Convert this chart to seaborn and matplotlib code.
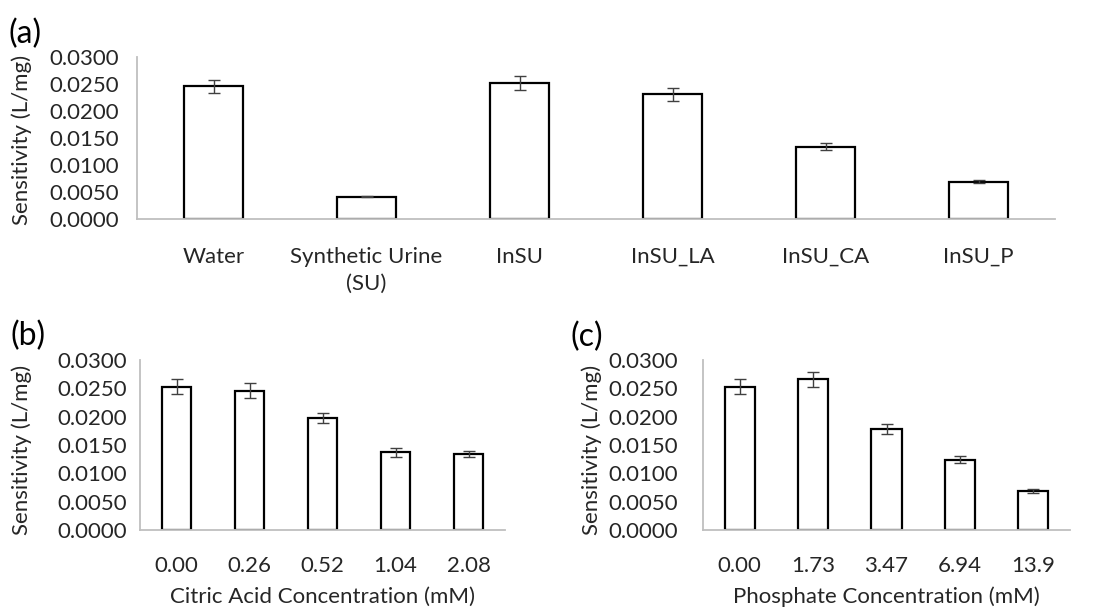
import numpy as np
import pandas as pd
import matplotlib
matplotlib.use("Agg")
import matplotlib.pyplot as plt
import matplotlib.transforms as mtransforms
import seaborn as sns

sns.set_style("white")
plt.rcParams["font.family"] = ["Lato", "DejaVu Sans"]

# data ----------------------------------------------------------------
cats_a = ["Water", "Synthetic Urine\n(SU)", "InSU", "InSU_LA", "InSU_CA", "InSU_P"]
sens_a = [0.0246, 0.0041, 0.0252, 0.0231, 0.0134, 0.0069]
err_a = [0.0012, 0.0001, 0.0013, 0.0012, 0.0006, 0.0003]

cats_b = ["0.00", "0.26", "0.52", "1.04", "2.08"]
sens_b = [0.0253, 0.0246, 0.0197, 0.0137, 0.0134]
err_b = [0.0013, 0.0013, 0.0009, 0.0008, 0.0006]

cats_c = ["0.00", "1.73", "3.47", "6.94", "13.9"]
sens_c = [0.0253, 0.0266, 0.0178, 0.0124, 0.0069]
err_c = [0.0013, 0.0013, 0.0009, 0.0006, 0.0003]

W, H = 1096, 608
FS = 16
fig = plt.figure(figsize=(W / 100, H / 100), dpi=100)


def px_axes(left, top, right, bottom):
    return fig.add_axes([left / W, 1 - bottom / H, (right - left) / W, (bottom - top) / H])


def panel(ax, cats, vals, errs, width, xlabel, ypad, xpad):
    df = pd.DataFrame({"cat": cats, "val": vals})
    sns.barplot(data=df, x="cat", y="val", ax=ax, color="white", width=width,
                edgecolor="black", linewidth=1.6, errorbar=None, saturation=1)
    ax.errorbar(np.arange(len(cats)), vals, yerr=errs, fmt="none",
                ecolor="#404040", elinewidth=1, capsize=4, capthick=1)
    ax.set_ylim(0, 0.03)
    ax.set_xlim(-0.5, len(cats) - 0.5)
    ax.set_yticks(np.arange(0, 0.0301, 0.005))
    ax.set_yticklabels([f"{v:.4f}" for v in np.arange(0, 0.0301, 0.005)])
    ax.set_xticks(np.arange(-0.5, len(cats)), minor=True)
    ax.tick_params(axis="y", length=0, pad=ypad, labelsize=FS, colors="#262626")
    ax.tick_params(axis="x", which="major", length=0, pad=xpad, labelsize=FS, colors="#262626")
    ax.tick_params(axis="x", which="minor", length=3, color="#BFBFBF", direction="out")
    for t in ax.get_xticklabels():
        t.set_linespacing(1.45)
    for s in ["top", "right"]:
        ax.spines[s].set_visible(False)
    for s in ["left", "bottom"]:
        ax.spines[s].set_color("#BFBFBF")
        ax.spines[s].set_linewidth(1.3)
    ax.set_xlabel(xlabel, fontsize=FS, color="#262626")
    ax.set_ylabel("Sensitivity (L/mg)", fontsize=FS, color="#262626")


ax_a = px_axes(137, 57, 1055, 219)
panel(ax_a, cats_a, sens_a, err_a, 0.385, "", 13, 20)
ax_a.yaxis.set_label_coords(32 / W, 1 - 140 / H, transform=fig.transFigure)

ax_b = px_axes(140, 360, 505, 530)
panel(ax_b, cats_b, sens_b, err_b, 0.41, "Citric Acid Concentration (mM)", 9, 19)
ax_b.yaxis.set_label_coords(32 / W, 1 - 450 / H, transform=fig.transFigure)
ax_b.xaxis.label.set_va("center")
ax_b.xaxis.set_label_coords(0.5, 1 - 597 / H,
                            transform=mtransforms.blended_transform_factory(ax_b.transAxes, fig.transFigure))

ax_c = px_axes(703, 360, 1070, 530)
panel(ax_c, cats_c, sens_c, err_c, 0.41, "Phosphate Concentration (mM)", 18, 19)
ax_c.yaxis.set_label_coords(602 / W, 1 - 450 / H, transform=fig.transFigure)
ax_c.xaxis.label.set_va("center")
ax_c.xaxis.set_label_coords(0.5, 1 - 597 / H,
                            transform=mtransforms.blended_transform_factory(ax_c.transAxes, fig.transFigure))

for lab, x, y in [("(a)", 9, 34), ("(b)", 11, 336), ("(c)", 570, 337)]:
    fig.text(x / W, 1 - y / H, lab, fontsize=23, color="black", va="center", ha="left")

fig.savefig("out.png", dpi=100, facecolor="white")
